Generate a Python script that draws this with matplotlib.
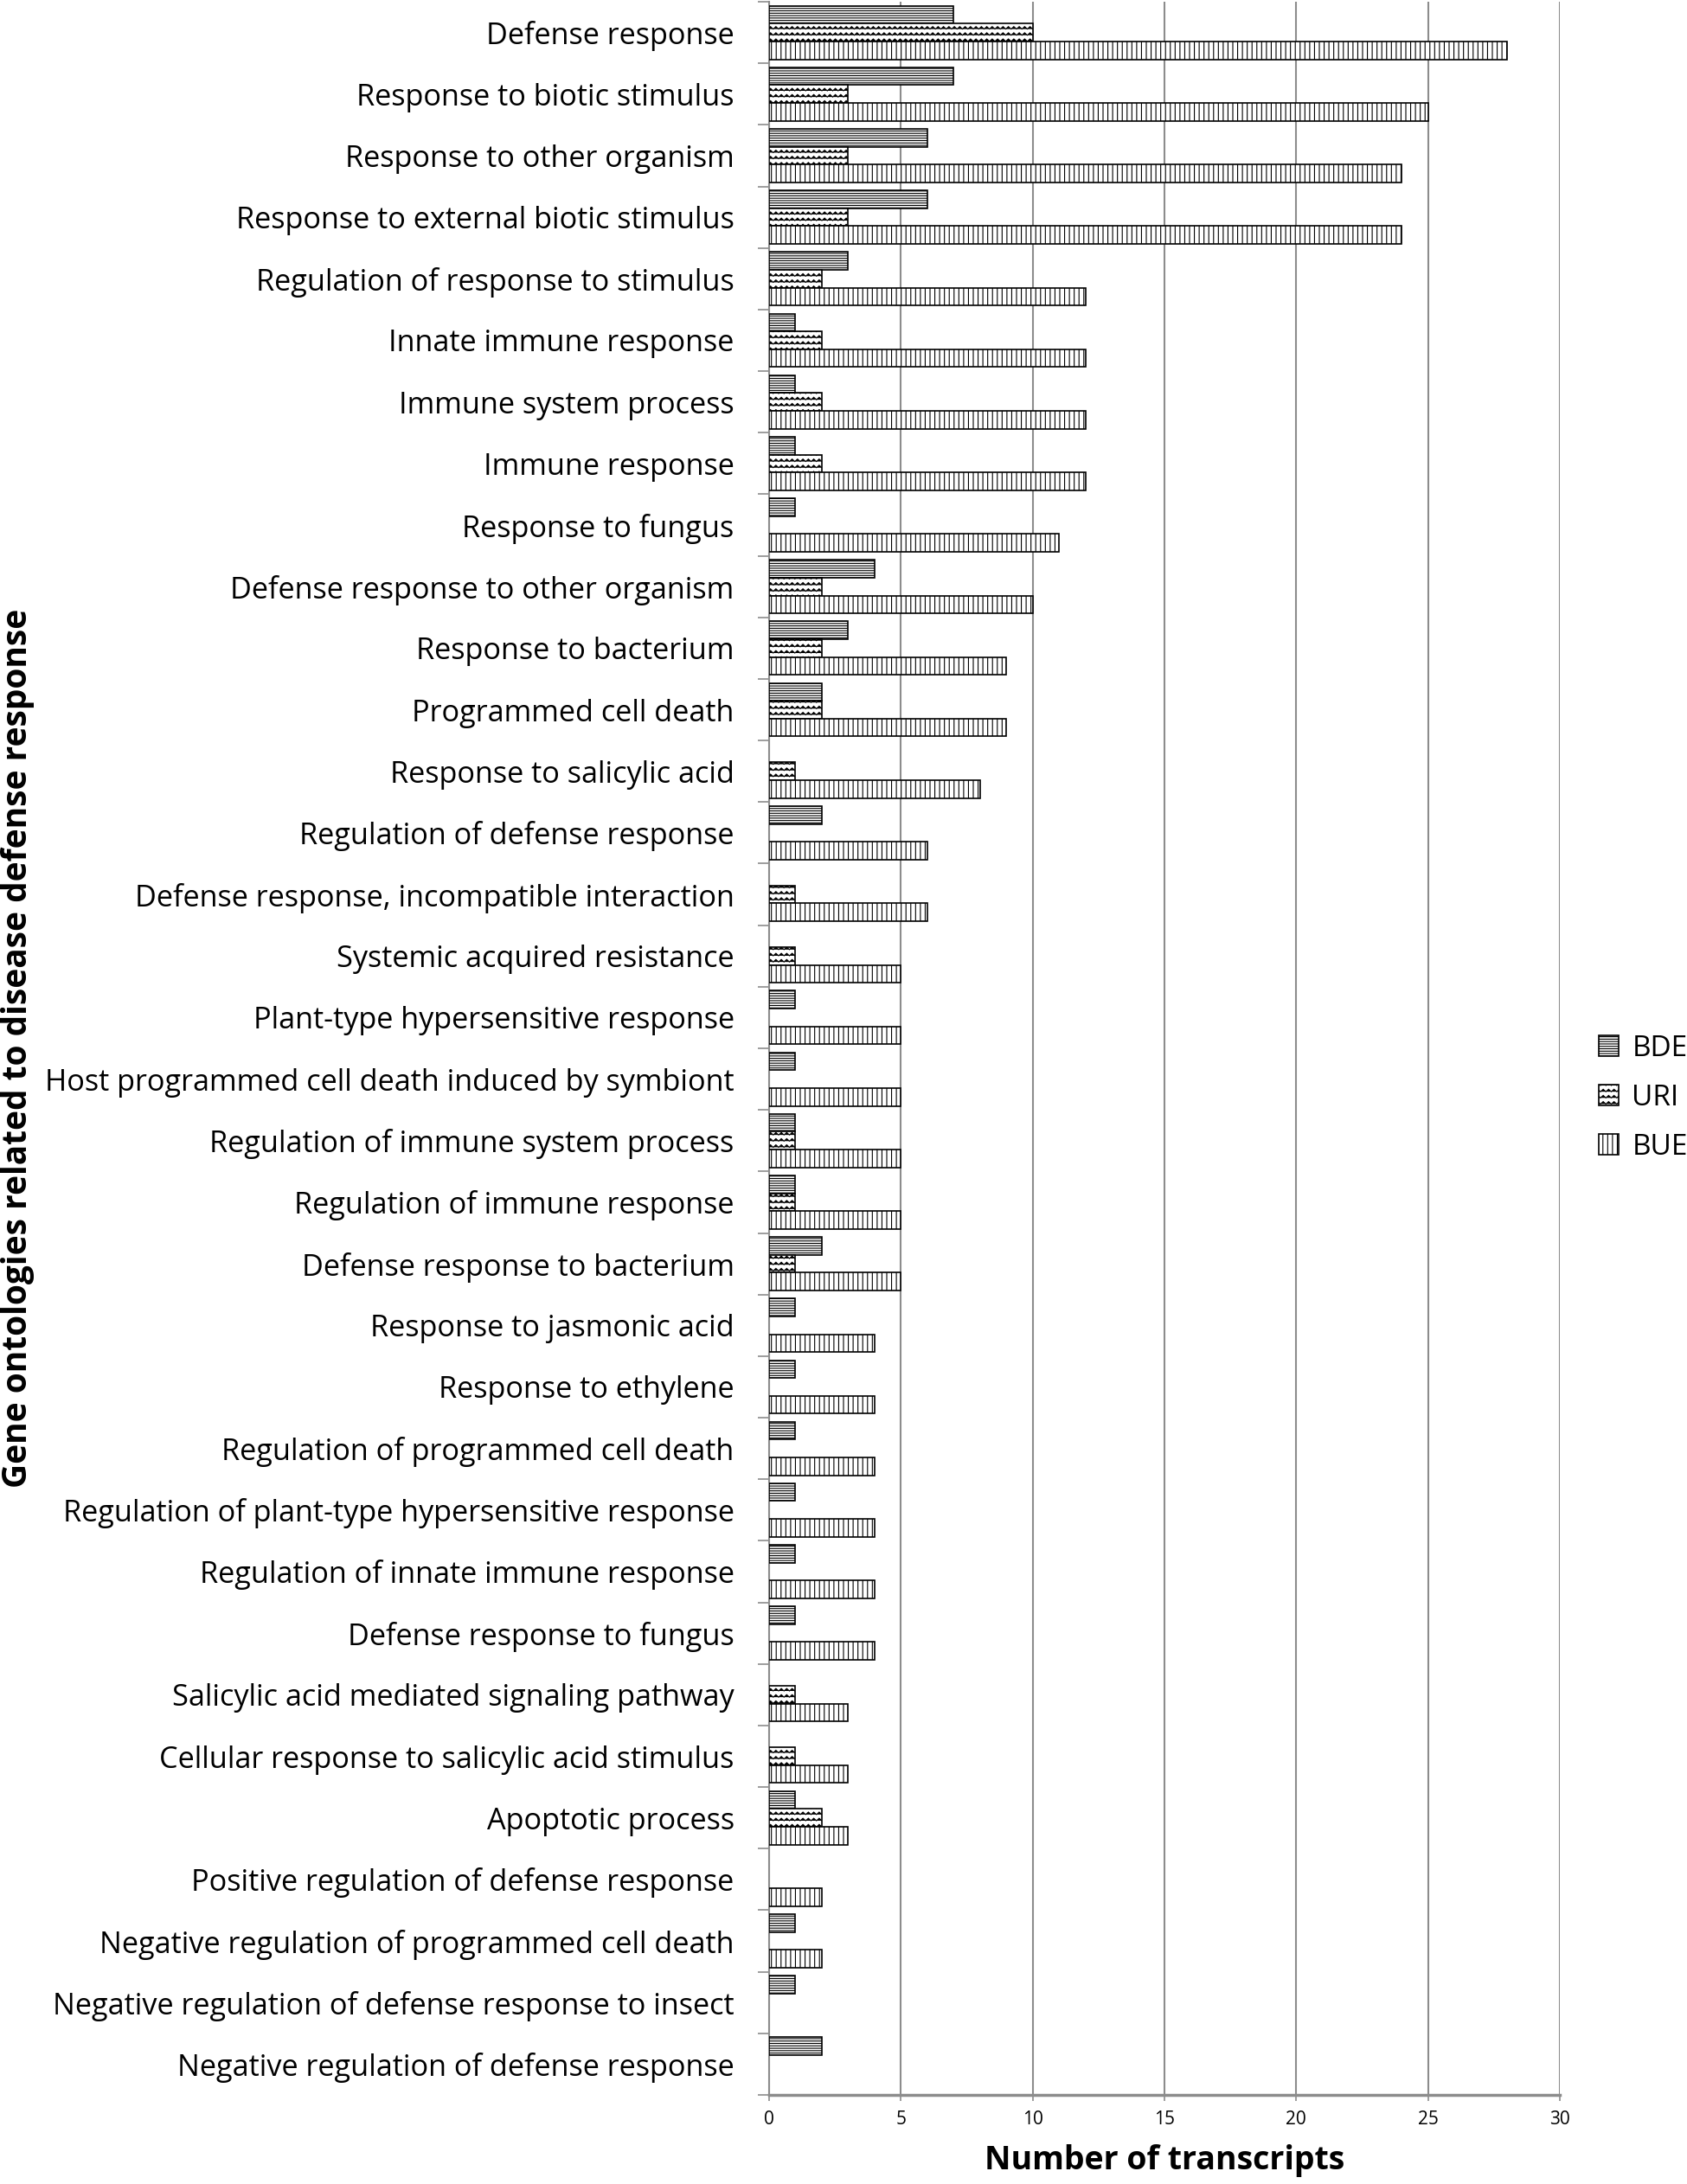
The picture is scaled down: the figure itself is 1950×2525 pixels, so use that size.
import warnings
import numpy as np
import matplotlib
matplotlib.use('Agg')
import matplotlib.pyplot as plt
import matplotlib.hatch as mhatch
from matplotlib.path import Path

warnings.filterwarnings('ignore')

categories = [
    'Defense response',
    'Response to biotic stimulus',
    'Response to other organism',
    'Response to external biotic stimulus',
    'Regulation of response to stimulus',
    'Innate immune response',
    'Immune system process',
    'Immune response',
    'Response to fungus',
    'Defense response to other organism',
    'Response to bacterium',
    'Programmed cell death',
    'Response to salicylic acid',
    'Regulation of defense response',
    'Defense response, incompatible interaction',
    'Systemic acquired resistance',
    'Plant-type hypersensitive response',
    'Host programmed cell death induced by symbiont',
    'Regulation of immune system process',
    'Regulation of immune response',
    'Defense response to bacterium',
    'Response to jasmonic acid',
    'Response to ethylene',
    'Regulation of programmed cell death',
    'Regulation of plant-type hypersensitive response',
    'Regulation of innate immune response',
    'Defense response to fungus',
    'Salicylic acid mediated signaling pathway',
    'Cellular response to salicylic acid stimulus',
    'Apoptotic process',
    'Positive regulation of defense response',
    'Negative regulation of programmed cell death',
    'Negative regulation of defense response to insect',
    'Negative regulation of defense response',
]

bde = [7, 7, 6, 6, 3, 1, 1, 1, 1, 4, 3, 2, 0, 2, 0, 0, 1, 1, 1, 1, 2,
       1, 1, 1, 1, 1, 1, 0, 0, 1, 0, 1, 1, 2]
uri = [10, 3, 3, 3, 2, 2, 2, 2, 0, 2, 2, 2, 1, 0, 1, 1, 0, 0, 1, 1, 1,
       0, 0, 0, 0, 0, 0, 1, 1, 2, 0, 0, 0, 0]
bue = [28, 25, 24, 24, 12, 12, 12, 12, 11, 10, 9, 9, 8, 6, 6, 5, 5, 5, 5, 5, 5,
       4, 4, 4, 4, 4, 4, 3, 3, 3, 2, 2, 0, 0]

series_names = ['BDE', 'URI', 'BUE']
x_ticks = [0, 5, 10, 15, 20, 25, 30]


class ZigZagHatch(mhatch.HatchPatternBase):
    # wavy rows like the Excel pattern, triggered by 'z' in the hatch string
    def __init__(self, hatch, density):
        self.num_rows = hatch.count('z') * 7
        self.num_peaks = 16
        self.num_vertices = self.num_rows * (2 * self.num_peaks + 1)

    def set_vertices_and_codes(self, vertices, codes):
        n = 2 * self.num_peaks + 1
        xs = np.linspace(0.0, 1.0, n)
        amp = 0.2 / self.num_rows
        wave = np.where(np.arange(n) % 2 == 0, -amp, amp)
        for i in range(self.num_rows):
            yc = (i + 0.5) / self.num_rows
            vertices[i * n:(i + 1) * n, 0] = xs
            vertices[i * n:(i + 1) * n, 1] = yc + wave
            codes[i * n] = Path.MOVETO
            codes[i * n + 1:(i + 1) * n] = Path.LINETO


mhatch._hatch_types.append(ZigZagHatch)

plt.rcParams['font.family'] = ['Open Sans', 'DejaVu Sans']
plt.rcParams['hatch.linewidth'] = 0.8

grey = '#8c8c8c'

fig = plt.figure(figsize=(19.5, 25.25), dpi=100)
ax = fig.add_axes([0.4559, 0.0408, 0.4687, 0.9584])

y = np.arange(len(categories))
h = 0.29
hatches = ['------', 'zz', '|||']
offsets = [-h, 0, h]

for vals, name, hatch, off in zip([bde, uri, bue], series_names, hatches, offsets):
    vals = np.array(vals)
    mask = vals > 0
    ax.barh(y[mask] + off, vals[mask], height=h, color='white',
            edgecolor='black', linewidth=1.2, hatch=hatch, label=name, zorder=3)

ax.set_xlim(0, 30)
ax.set_ylim(len(categories) - 0.5, -0.5)
ax.set_xticks(x_ticks)
ax.xaxis.grid(True, color=grey, linewidth=1.5)
ax.set_axisbelow(True)

for s in ['top', 'right']:
    ax.spines[s].set_visible(False)
ax.spines['left'].set_color(grey)
ax.spines['left'].set_linewidth(1.5)
ax.spines['bottom'].set_color(grey)
ax.spines['bottom'].set_linewidth(2.5)

ax.set_yticks(y, categories, fontsize=24.7)
ax.set_yticks(np.arange(len(categories) + 1) - 0.5, minor=True)
ax.tick_params(axis='y', which='major', length=0, pad=29)
ax.tick_params(axis='y', which='minor', length=9.5, width=1.2, color=grey)
ax.tick_params(axis='x', length=5, width=1.2, color=grey, labelsize=15, pad=8)

ax.set_xlabel('Number of transcripts', fontsize=27, fontweight='bold', labelpad=13)
ax.set_ylabel('Gene ontologies related to disease defense response',
              fontsize=28, fontweight='bold')
ax.yaxis.set_label_coords(-0.929, 0.5)

fig.legend(loc='center left', bbox_to_anchor=(0.9477, 0.4974), frameon=False,
           fontsize=24, handlelength=0.7, handleheight=0.7, handletextpad=0.45,
           labelspacing=0.72, borderpad=0, borderaxespad=0)

fig.savefig('out.png', dpi=100)
